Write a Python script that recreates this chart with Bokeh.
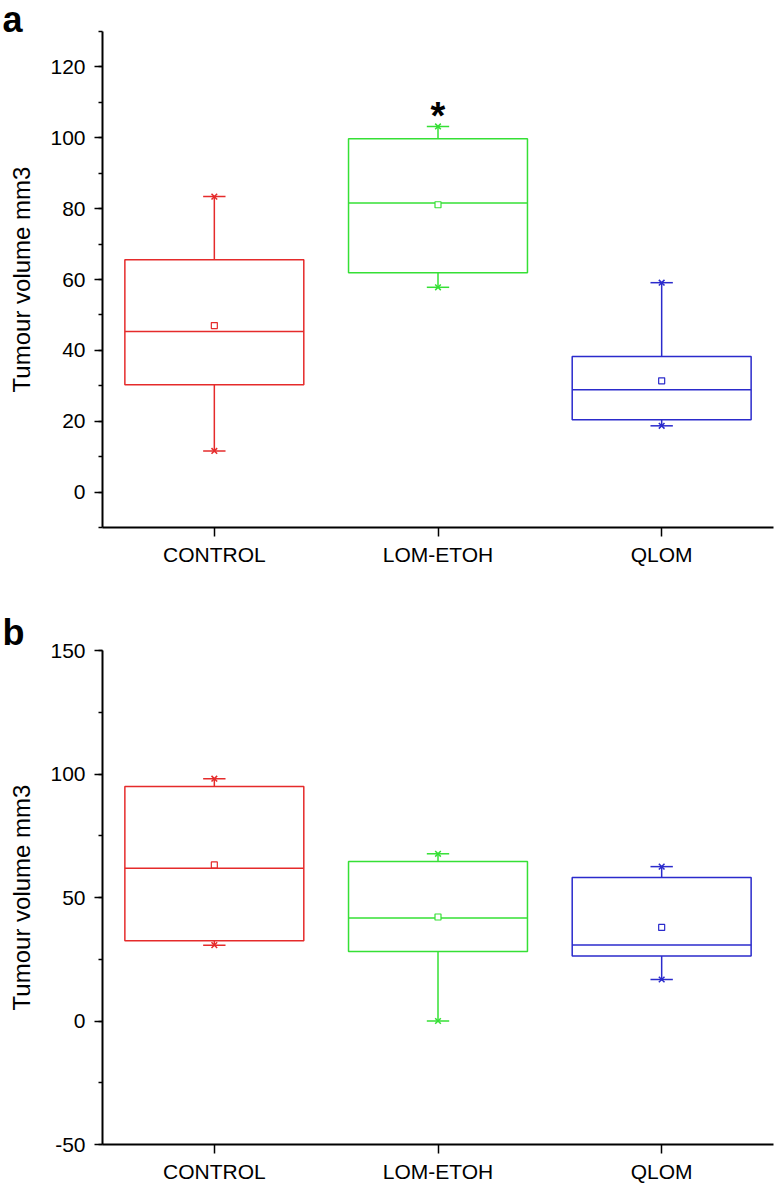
from bokeh.plotting import figure
from bokeh.layouts import column
from bokeh.models import Range1d, FixedTicker, SingleIntervalTicker, Title, ColumnDataSource
from bokeh.core.properties import value
from bokeh.embed import file_html
from bokeh.resources import INLINE

FONT = "Liberation Sans"

categories = ["CONTROL", "LOM-ETOH", "QLOM"]
colors = ["#E52B2B", "#35E035", "#2B2BCC"]

# Panel a
a_min = [11.6, 57.8, 18.7]
a_q1 = [30.3, 61.9, 20.4]
a_median = [45.3, 81.6, 28.9]
a_mean = [47.0, 81.1, 31.4]
a_q3 = [65.6, 99.7, 38.3]
a_max = [83.4, 103.2, 59.1]
a_significant = ["", "*", ""]

# Panel b
b_min = [30.7, 0.0, 16.8]
b_q1 = [32.5, 28.1, 26.3]
b_median = [61.8, 41.7, 30.8]
b_mean = [63.2, 42.1, 37.9]
b_q3 = [94.9, 64.6, 58.1]
b_max = [98.1, 67.7, 62.5]
b_significant = ["", "", ""]

BOX_W = 0.8
CAP_W = 0.1
LW = 1.5


def make_panel(letter, mins, q1, med, mean, q3, maxs, sig, y_start, y_end, major,
               height, top, bottom, letter_standoff):
    p = figure(width=776, height=height, output_backend="svg", toolbar_location=None,
               x_range=Range1d(0.5, 3.5), y_range=Range1d(y_start, y_end),
               min_border_left=102, min_border_right=3,
               min_border_top=top, min_border_bottom=bottom)
    p.outline_line_color = None
    p.grid.visible = False
    p.background_fill_color = "white"
    p.border_fill_color = "white"

    xs = [1, 2, 3]
    src = ColumnDataSource(dict(
        x=xs,
        left=[x - BOX_W / 2 for x in xs],
        right=[x + BOX_W / 2 for x in xs],
        cl=[x - CAP_W / 2 for x in xs],
        cr=[x + CAP_W / 2 for x in xs],
        lo=mins, q1=q1, med=med, mean=mean, q3=q3, hi=maxs,
        color=colors, sig=sig,
    ))

    p.segment(x0="x", y0="q3", x1="x", y1="hi", line_color="color", line_width=LW, source=src)
    p.segment(x0="x", y0="lo", x1="x", y1="q1", line_color="color", line_width=LW, source=src)
    p.segment(x0="cl", y0="hi", x1="cr", y1="hi", line_color="color", line_width=LW, source=src)
    p.segment(x0="cl", y0="lo", x1="cr", y1="lo", line_color="color", line_width=LW, source=src)
    p.quad(left="left", right="right", bottom="q1", top="q3", fill_color=None,
           line_color="color", line_width=LW, source=src)
    p.segment(x0="left", y0="med", x1="right", y1="med", line_color="color", line_width=LW, source=src)
    p.scatter(x="x", y="hi", marker="x", size=8, line_color="color", line_width=1.5, source=src)
    p.scatter(x="x", y="lo", marker="x", size=8, line_color="color", line_width=1.5, source=src)
    p.scatter(x="x", y="mean", marker="square", size=6, fill_color="white",
              line_color="color", line_width=1.2, source=src)
    p.text(x="x", y="hi", text="sig", text_font=value(FONT), text_font_style="bold",
           text_font_size="38px", text_align="center", text_baseline="alphabetic",
           y_offset=-10, text_color="black", source=src)

    ya = p.yaxis[0]
    ya.ticker = SingleIntervalTicker(interval=major, num_minor_ticks=2)
    ya.major_label_overrides = {t: str(t) for t in range(-100, 0, major)}
    ya.axis_label = "Tumour volume mm3"
    ya.axis_label_text_font = FONT
    ya.axis_label_text_font_size = "24px"
    ya.axis_label_text_font_style = "normal"
    ya.axis_label_text_color = "black"
    ya.axis_label_standoff = 12
    ya.major_label_text_font = FONT
    ya.major_label_text_font_size = "21px"
    ya.major_label_text_color = "black"
    ya.major_label_standoff = 9
    ya.axis_line_width = 2
    ya.axis_line_color = "black"
    ya.major_tick_line_width = 1.5
    ya.minor_tick_line_width = 1.5
    ya.major_tick_out = 8
    ya.major_tick_in = 0
    ya.minor_tick_out = 4
    ya.minor_tick_in = 0

    xa = p.xaxis[0]
    xa.ticker = FixedTicker(ticks=xs, minor_ticks=[])
    xa.major_label_overrides = {x: c for x, c in zip(xs, categories)}
    xa.major_label_text_font = FONT
    xa.major_label_text_font_size = "21px"
    xa.major_label_text_color = "black"
    xa.major_label_standoff = 6
    xa.axis_line_width = 2
    xa.axis_line_color = "black"
    xa.major_tick_line_width = 1.5
    xa.major_tick_out = 9
    xa.major_tick_in = 0

    p.add_layout(Title(text=letter, align="left", offset=-100, standoff=letter_standoff,
                       text_font=FONT, text_font_size="36px", text_font_style="bold",
                       text_color="black"), "above")
    return p


pa = make_panel("a", a_min, a_q1, a_median, a_mean, a_q3, a_max, a_significant,
                -10, 130, 20, 592, 31, 65, -16)
pb = make_panel("b", b_min, b_q1, b_median, b_mean, b_q3, b_max, b_significant,
                -50, 150, 50, 593, 58, 39, -4)

layout = column(pa, pb, spacing=0)
open("out.html", "w").write(file_html(layout, INLINE))
